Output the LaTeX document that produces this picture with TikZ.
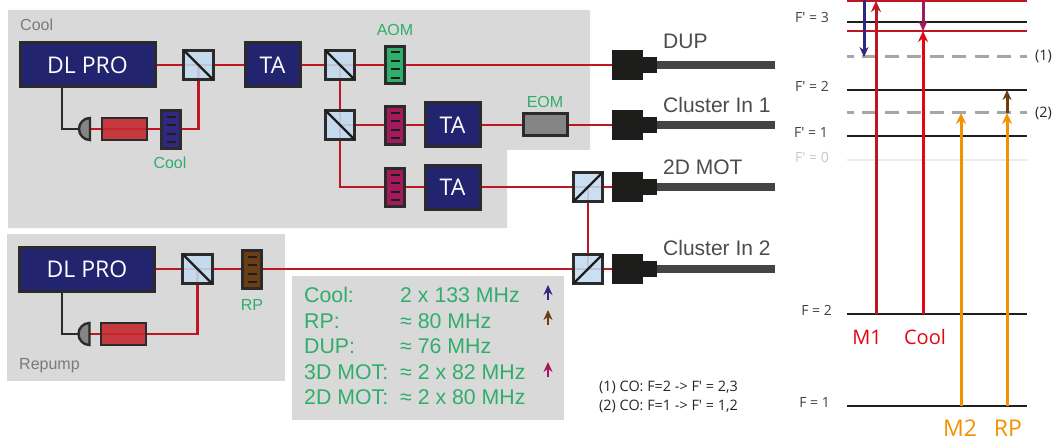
\documentclass[tikz,border=0pt]{standalone}
\usepackage{fontspec}
\setmainfont{Liberation Sans}
\newfontfamily\myr{Open Sans}
\usetikzlibrary{arrows.meta}
\definecolor{bgg}{HTML}{D9D9D9}
\definecolor{navy}{HTML}{22246F}
\definecolor{edgek}{HTML}{2B2B2B}
\definecolor{beam}{HTML}{BE1622}
\definecolor{pbsb}{HTML}{C3DBF0}
\definecolor{grn}{HTML}{2FAE6B}
\definecolor{mag}{HTML}{A3195B}
\definecolor{brn}{HTML}{6B3F13}
\definecolor{blu}{HTML}{312783}
\definecolor{org}{HTML}{F39200}
\definecolor{brite}{HTML}{E30613}
\definecolor{gtxt}{HTML}{7A7A7A}
\definecolor{fib}{HTML}{444444}
\definecolor{conn}{HTML}{1D1D1B}
\definecolor{cellc}{HTML}{C4282F}
\tikzset{
  x=1pt,y=-1pt,
  box/.style={draw=edgek,line width=3pt,inner sep=0pt,outer sep=0pt,anchor=center},
  laser/.style={box,fill=navy,text=white,minimum width=135pt,minimum height=44pt,font=\myr\fontsize{23}{23}\selectfont},
  amp/.style={box,fill=navy,text=white,minimum width=55pt,minimum height=44pt,font=\myr\fontsize{23}{23}\selectfont},
  pbs/.style={box,fill=pbsb,fill opacity=.88,minimum width=29.5pt,minimum height=29.5pt,line width=2.6pt},
  modul/.style={box,minimum width=18.5pt,minimum height=37.5pt,line width=2.8pt},
  cell/.style={box,fill=cellc,fill opacity=.9,minimum width=45pt,minimum height=22pt,line width=2.6pt},
  rb/.style={draw=beam,line width=2.6pt},
  kb/.style={draw=edgek,line width=2.8pt},
  lev/.style={line width=2.2pt,draw=black!88},
  dlev/.style={line width=3pt,draw=black!35,dash pattern=on 14pt off 8.5pt,dash phase=7.5pt},
  greenl/.style={text=grn,inner sep=0pt,font=\fontsize{16}{16}\selectfont},
  grayl/.style={text=gtxt,inner sep=0pt,font=\fontsize{16}{16}\selectfont},
  fibl/.style={text=black!70,inner sep=0pt,anchor=west,font=\fontsize{21}{21}\selectfont},
  tabl/.style={text=grn,inner sep=0pt,anchor=west,font=\fontsize{21.3}{21.3}\selectfont},
  levl/.style={text=black!75,inner sep=0pt,anchor=east,font=\myr\fontsize{14}{14}\selectfont},
  note/.style={text=black!85,inner sep=0pt,anchor=west,font=\myr\fontsize{14.4}{14.4}\selectfont},
  trans/.style={-{Stealth[length=11pt,width=10pt]},line width=3pt},
  mini/.style={-{Stealth[length=10pt,width=9pt]},line width=2.4pt},
  lbl/.style={inner sep=0pt,font=\myr\fontsize{20}{20}\selectfont},
  lblb/.style={inner sep=0pt,font=\myr\fontsize{23}{23}\selectfont},
}
\newcommand{\fibre}[3]{% name, x, y
  \fill[conn] (#2,#3-15) rectangle (#2+31,#3+15);
  \fill[conn] (#2+31,#3-8) rectangle (#2+45,#3+8);
  \fill[fib] (#2+45,#3-4) rectangle (#2+163,#3+4);
  \coordinate (#1) at (#2,#3);
}
\newcommand{\ticks}[1]{% modulator node
  \foreach \d in {-12.7,-4.2,4.2,12.7}
    \draw[draw=conn,line width=2.2pt] ([xshift=-4.5pt,yshift=\d pt]#1.center) -- ([xshift=4.5pt,yshift=\d pt]#1.center);
}
\newcommand{\pd}[3]{% name,x(flat),y
  \draw[edgek,fill=black!48,line width=2.4pt] (#2,#3-11) arc[start angle=90,end angle=270,x radius=11pt,y radius=11pt] -- cycle;
  \coordinate (#1) at (#2,#3);
}
\begin{document}
\begin{tikzpicture}
\useasboundingbox (0,0) rectangle (1052,441);
% backgrounds
\fill[bgg] (8,10) -- (590,10) -- (590,150) -- (507,150) -- (507,228) -- (8,228) -- cycle;
\fill[bgg] (7,234) rectangle (285,381);
\fill[bgg] (292,276) rectangle (564,420);
\node[grayl,anchor=west] (tcool) at (20,24.5) {Cool};
\node[grayl,anchor=west] (trep) at (19,365.5) {Repump};
% coordinates
\fibre{f1}{612}{65}
\fibre{f2}{612}{125}
\fibre{f3}{612}{187}
\fibre{f4}{612}{269}
\coordinate (dl1) at (87.5,65);
\coordinate (p1) at (198.5,65);
\coordinate (p2) at (340,65);
\coordinate (p3) at (340,125);
\coordinate (p4) at (588,187);
\coordinate (p5) at (588,269);
\coordinate (p6) at (197.5,269);
% beams
\draw[rb] (dl1) -- (p1) -- (f1 -| p2) -- (f1);
\draw[rb] (p2) -- (p3) -- (f2);
\draw[rb] (p3) -- (340,187) -- (f3);
\draw[rb] (p4) -- (p5);
\draw[rb] (87,269) -- (f4);
\draw[rb] (90,129) -- (198.5,129) -- (p1);
\draw[rb] (90,334) -- (197.5,334) -- (p6);
\draw[kb] (62,88) -- (62,129) -- (79,129);
\draw[kb] (62,292) -- (62,334) -- (78,334);
% components
\node[laser] (d1) at (87.5,65) {DL PRO};
\node[laser] (d2) at (87,269) {DL PRO};
\node[amp] (ta1) at (272.5,65) {TA};
\node[amp] (ta2) at (452.5,125) {TA};
\node[amp] (ta3) at (452.5,187) {TA};
\foreach \n/\a in {p1/p1,p2/p2,p3/p3,p6/p6}{
  \node[pbs] (n\n) at (\a) {};
  \draw[conn,line width=2.2pt] (n\n.north west) -- (n\n.south east);
}
\foreach \n/\a in {p4/p4,p5/p5}{
  \node[pbs] (n\n) at (\a) {};
  \draw[conn,line width=2.2pt] (n\n.south west) -- (n\n.north east);
}
\node[modul,fill=grn] (aom) at (395,65) {}; \ticks{aom}
\node[modul,fill=mag] (m2) at (395,125.5) {}; \ticks{m2}
\node[modul,fill=mag] (m3) at (395,187.5) {}; \ticks{m3}
\node[modul,fill=blu] (mc) at (171,129.5) {}; \ticks{mc}
\node[modul,fill=brn] (mr) at (252,269.5) {}; \ticks{mr}
\node[box,fill=black!48,minimum width=44pt,minimum height=22pt] (eom) at (545,125) {};
\node[cell] (c1) at (124.5,129) {};
\node[cell] (c2) at (123.5,334) {};
\pd{pd1}{90}{129}
\pd{pd2}{89.5}{334}
% labels
\node[greenl] (la) at (395,30) {AOM};
\node[greenl] (le) at (545,102) {EOM};
\node[greenl] (lc) at (170,162.5) {Cool};
\node[greenl] (lr) at (252,305) {RP};
\node[fibl] (t1) at (663,41) {DUP};
\node[fibl] (t2) at (663,105) {Cluster In 1};
\node[fibl] (t3) at (663,167) {2D MOT};
\node[fibl] (t4) at (663,248) {Cluster In 2};
% table
\foreach \y/\a/\b in {295/Cool:/2 x 133 MHz,321/RP:/≈ 80 MHz,346/DUP:/≈ 76 MHz,372/3D MOT:/≈ 2 x 82 MHz,397/2D MOT:/≈ 2 x 80 MHz}{
  \node[tabl] at (304,\y) {\a};
  \node[tabl] at (400,\y) {\b};
}
\draw[mini,blu] (548,300) -- (548,285);
\draw[mini,brn] (548,325) -- (548,310);
\draw[mini,mag] (548,377) -- (548,362);
\node[note] (n1) at (599,387) {(1) CO: F=2 -> F′ = 2,3};
\node[note] (n2) at (599,406) {(2) CO: F=1 -> F′ = 1,2};
% levels
\draw[lev,beam] (847,1) -- (1027,1);
\draw[lev] (847,22) -- (1027,22);
\draw[lev,beam] (847,31) -- (1027,31);
\draw[dlev] (847,57) -- (1027,57);
\draw[lev] (847,90) -- (1027,90);
\draw[dlev] (847,113) -- (1027,113);
\draw[lev] (847,136) -- (1027,136);
\draw[lev,draw=black!8] (847,160) -- (1027,160);
\draw[lev] (847,314) -- (1027,314);
\draw[lev] (847,406) -- (1027,406);
\node[levl] at (829,18) {F′ = 3};
\node[levl] at (829,86) {F′ = 2};
\node[levl] at (828,133) {F′ = 1};
\node[levl,text=black!22] at (829,157) {F′ = 0};
\node[levl] at (832,310) {F = 2};
\node[levl] at (830,402) {F = 1};
\node[note,anchor=west] at (1035,57) {(1)};
\node[note,anchor=west] at (1035,113) {(2)};
% transitions
\draw[trans,beam] (876,314) -- (876,1);
\draw[trans,brite] (923,314) -- (923,31);
\draw[mini,blu,line width=3pt] (864,0) -- (864,57);
\draw[mini,mag,line width=3pt] (923,0) -- (923,31);
\draw[trans,org] (961,406) -- (961,113);
\draw[trans,org] (1007,406) -- (1007,113);
\draw[mini,brn,line width=3pt] (1007,113) -- (1007,90);
\node[lbl,text=brite] at (867,337) {M1};
\node[lbl,text=brite] at (925,337) {Cool};
\node[lblb,text=org] at (960,428) {M2};
\node[lblb,text=org] at (1008,428) {RP};
\end{tikzpicture}
\end{document}
